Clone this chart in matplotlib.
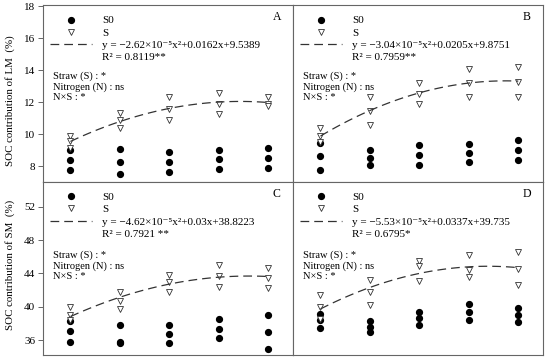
import matplotlib
matplotlib.use("Agg")
import matplotlib.pyplot as plt
from matplotlib.lines import Line2D
import numpy as np

plt.rcParams["font.family"] = ["Liberation Serif", "DejaVu Serif"]

# nitrogen rates (x positions of the point columns)
n_rate = [0, 90, 180, 270, 360]

# panel A: LM, three replicates per rate
a_s0 = [[9.02, 8.38, 7.72], [9.05, 8.25, 7.52], [8.88, 8.25, 7.62], [9.03, 8.42, 7.84], [9.15, 8.53, 7.90]]
a_s = [[9.90, 9.55, 9.10], [11.35, 10.87, 10.35], [12.29, 11.56, 10.87], [12.54, 11.87, 11.24], [12.33, 11.90, 11.75]]
# panel B: LM
b_s0 = [[9.45, 8.65, 7.73], [8.98, 8.53, 8.04], [9.34, 8.72, 8.09], [9.40, 8.82, 8.23], [9.61, 8.98, 8.36]]
b_s = [[10.35, 9.88, 9.50], [12.29, 11.45, 10.55], [13.20, 12.50, 11.87], [14.07, 13.17, 12.29], [14.21, 13.27, 12.29]]
# panel C: SM
c_s0 = [[38.3, 37.1, 35.8], [37.8, 35.8, 35.7], [37.8, 36.68, 35.6], [38.48, 37.36, 36.28], [39.0, 37.0, 34.92]]
c_s = [[40.0, 39.0, 38.4], [41.8, 40.72, 39.72], [43.8, 42.92, 41.72], [45.0, 43.68, 42.32], [44.72, 43.48, 42.2]]
# panel D: SM
d_s0 = [[39.12, 38.4, 37.4], [38.32, 37.6, 36.92], [39.32, 38.6, 37.8], [40.28, 39.32, 38.4], [39.8, 39.0, 38.12]]
d_s = [[41.4, 40.0, 38.5], [43.2, 41.72, 40.2], [45.48, 44.92, 43.08], [46.2, 44.4, 43.6], [46.6, 44.52, 42.6]]

# quadratic fit coefficients (a, b, c) for y = a x^2 + b x + c
fits = [(-2.62e-5, 0.0162, 9.5389), (-3.04e-5, 0.0205, 9.8751),
        (-4.62e-5, 0.03, 38.8223), (-5.53e-5, 0.0337, 39.735)]
eqs = ["y = −2.62×10⁻⁵x²+0.0162x+9.5389",
       "y = −3.04×10⁻⁵x²+0.0205x+9.8751",
       "y = −4.62×10⁻⁵x²+0.03x+38.8223",
       "y = −5.53×10⁻⁵x²+0.0337x+39.735"]
r2 = ["R² = 0.8119**", "R² = 0.7959**", "R² = 0.7921 **", "R² = 0.6795*"]
letters = ["A", "B", "C", "D"]
sig_text = "Straw (S) : *\nNitrogen (N) : ns\nN×S : *"

fig = plt.figure(figsize=(5.5, 3.57), dpi=100)
gs = fig.add_gridspec(2, 2, left=43/550, right=543/550, top=1-5/357, bottom=2/357,
                      wspace=0, hspace=0, height_ratios=[177, 173])

panels = [(a_s0, a_s), (b_s0, b_s), (c_s0, c_s), (d_s0, d_s)]
edge = "#666666"
dot_ms = 4.2
tri_ms = 4.3

for i, (s0, s) in enumerate(panels):
    ax = fig.add_subplot(gs[i // 2, i % 2])
    xs = np.repeat(n_rate, 3)
    ax.plot(xs, np.ravel(s0), "o", color="black", markersize=dot_ms, linestyle="none")
    ax.plot(xs, np.ravel(s), "v", markerfacecolor="white", markeredgecolor="#333333",
            markeredgewidth=0.6, markersize=tri_ms, linestyle="none")
    a, b, c = fits[i]
    xx = np.linspace(0, 360, 100)
    ax.plot(xx, a * xx**2 + b * xx + c, color="#333333", linewidth=0.9, dashes=(7, 4))

    handles = [Line2D([], [], marker="o", color="black", markersize=dot_ms, linestyle="none"),
               Line2D([], [], marker="v", markerfacecolor="white", markeredgecolor="#333333",
                      markeredgewidth=0.6, markersize=tri_ms, linestyle="none"),
               Line2D([], [], color="#333333", linewidth=0.9, dashes=(7, 4)),
               Line2D([], [], linestyle="none")]
    ax.legend(handles, ["S0", "S", eqs[i], r2[i]], loc="upper left", bbox_to_anchor=(7/250, 0.94),
              frameon=False, fontsize=8, handlelength=3.8, handletextpad=0.9, labelspacing=0.22,
              borderpad=0, borderaxespad=0)

    ax.text(0.04, 0.54 if i < 2 else 0.515, sig_text, transform=ax.transAxes, fontsize=7.5,
            va="center", ha="left", linespacing=1.15)
    ax.text(0.935, 0.93, letters[i], transform=ax.transAxes, fontsize=8.5, ha="center", va="center")

    ax.set_xlim(-50, 405)
    ax.set_xticks([])
    if i < 2:
        ax.set_ylim(7, 18.08)
        ax.set_yticks([8, 10, 12, 14, 16, 18])
    else:
        ax.set_ylim(34.2, 55)
        ax.set_yticks([36, 40, 44, 48, 52])
    for sp in ax.spines.values():
        sp.set_color(edge)
        sp.set_linewidth(0.8)
    ax.tick_params(axis="y", direction="out", length=3.5, width=0.7, color=edge,
                   labelsize=8, pad=2)
    if i % 2 == 1:
        ax.tick_params(axis="y", left=False, labelleft=False)
    else:
        if i == 0:
            ax.set_ylabel("SOC contribution of LM  (%)", fontsize=7.8)
            ax.yaxis.set_label_coords(-0.11, 0.46)
        else:
            ax.set_ylabel("SOC contribution of SM  (%)", fontsize=7.8)
            ax.yaxis.set_label_coords(-0.11, 0.52)

fig.savefig("out.png", dpi=100)
